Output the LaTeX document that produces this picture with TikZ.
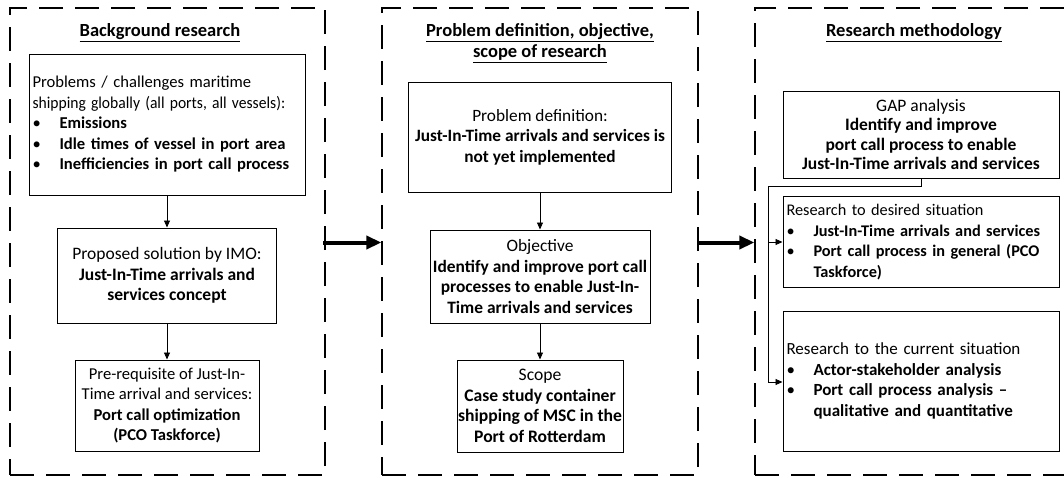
\documentclass[tikz,border=0pt]{standalone}
\usepackage{graphicx}
\usepackage{fontspec}
\setmainfont{Carlito}
\usetikzlibrary{arrows.meta}
\newcommand{\fs}[1]{\fontsize{#1}{20.5}\selectfont}
\newcommand{\fsg}[1]{\fontsize{#1}{19.3}\selectfont}
\newcommand{\titlefont}{\fontsize{18.5}{21}\selectfont\bfseries}
\tikzset{
  box/.style={draw, line width=1pt, inner sep=0pt, font=\fs{17}, align=center},
  lbox/.style={box, align=left, inner xsep=3.5pt},
  frame/.style={draw, line width=1.3pt, dash pattern=on 24pt off 12pt, inner sep=0pt},
  plain/.style={line width=0.9pt},
  link/.style={line width=0.9pt, -{Triangle[length=7pt,width=6pt]}},
  bigarrow/.style={line width=4pt, -{Triangle[length=15pt,width=13pt]}},
  title/.style={font=\titlefont, align=center}
}
\newcommand{\bl}[1]{\makebox[27pt][l]{\textbullet}\textbf{#1}}
\newcommand{\ct}[1]{\hspace*{27pt}\textbf{#1}}
\begin{document}
\begin{tikzpicture}[x=1pt,y=-1pt]
\useasboundingbox (0,0) rectangle (1064,477);
\begin{scope}
\clip (0,0) rectangle (1064,477);
% frames
\node[frame, minimum width=315pt, minimum height=467pt] (F1) at (167.5,241.5) {};
\node[frame, minimum width=316pt, minimum height=467pt] (F2) at (540,241.5) {};
\node[frame, minimum width=335pt, minimum height=467pt] (F3) at (922.5,241.5) {};
\end{scope}
% titles
\node[title] (T1) at (160,33) {\underline{Background research}};
\node[title] (T2) at (540,43) {\underline{Problem definition, objective,}\\\underline{scope of research}};
\node[title] (T3) at (914,33) {\underline{Research methodology}};
% column 1
\node[lbox, font=\fs{16.6}, minimum width=276pt, minimum height=141pt, text width=269pt] (A) at (167,124.5)
 {Problems / challenges maritime\\\leavevmode\scalebox{0.94}[1]{shipping globally (all ports, all vessels):}\\\bl{Emissions}\\\bl{Idle times of vessel in port area}\\\bl{Inefficiencies in port call process}};
\node[box, font=\fs{17.5}, minimum width=219pt, minimum height=95pt] (B) at (167,275.5)
 {Proposed solution by IMO:\\\textbf{Just-In-Time arrivals and}\\\textbf{services concept}};
\node[box, font=\fs{16.6}, minimum width=184pt, minimum height=91pt] (C) at (167,405.5)
 {Pre-requisite of Just-In-\\Time arrival and services:\\\textbf{Port call optimization}\\\textbf{(PCO Taskforce)}};
% column 2
\node[box, font=\fs{17.3}, minimum width=263pt, minimum height=110pt] (D) at (540,137)
 {Problem definition:\\\textbf{Just-In-Time arrivals and services is}\\\textbf{not yet implemented}};
\node[box, font=\fs{17.4}, minimum width=220pt, minimum height=93pt] (E) at (540,276.5)
 {Objective\\\textbf{Identify and improve port call}\\\textbf{processes to enable Just-In-}\\\textbf{Time arrivals and services}};
\node[box, font=\fs{17.6}, minimum width=166pt, minimum height=92pt] (F) at (540,406)
 {Scope\\\textbf{Case study container}\\\textbf{shipping of MSC in the}\\\textbf{Port of Rotterdam}};
% column 3
\node[box, font=\fsg{17.5}, minimum width=276pt, minimum height=87pt] (G) at (921,134.5)
 {GAP analysis\\\textbf{Identify and improve}\\\textbf{port call process to enable}\\\textbf{Just-In-Time arrivals and services}};
\node[lbox, font=\fs{16.3}, minimum width=276pt, minimum height=91pt, text width=269pt] (H) at (921,242)
 {Research to desired situation\\\bl{Just-In-Time arrivals and services}\\\bl{Port call process in general (PCO}\\\ct{Taskforce)}};
\node[lbox, font=\fs{17}, minimum width=276pt, minimum height=140pt, text width=269pt] (I) at (921,381)
 {Research to the current situation\\\bl{Actor-stakeholder analysis}\\\bl{Port call process analysis --}\\\ct{qualitative and quantitative}};
% connectors
\draw[link] (A.south) -- (B.north);
\draw[link] (B.south) -- (C.north);
\draw[link] (D.south) -- (E.north);
\draw[link] (E.south) -- (F.north);
\coordinate (jt) at (768,186);
\coordinate (jh) at (768,242);
\coordinate (jb) at (768,382);
\draw[plain] (G.south) |- (jt) -- (jb);
\draw[link] (jh) -- (H.west |- jh);
\draw[link] (jb) -- (I.west |- jb);
\coordinate (s1) at (323,242.5);
\coordinate (s2) at (697,242.5);
\draw[bigarrow] (s1) -- (F2.west |- s1);
\draw[bigarrow] (s2) -- (F3.west |- s2);
\end{tikzpicture}
\end{document}
